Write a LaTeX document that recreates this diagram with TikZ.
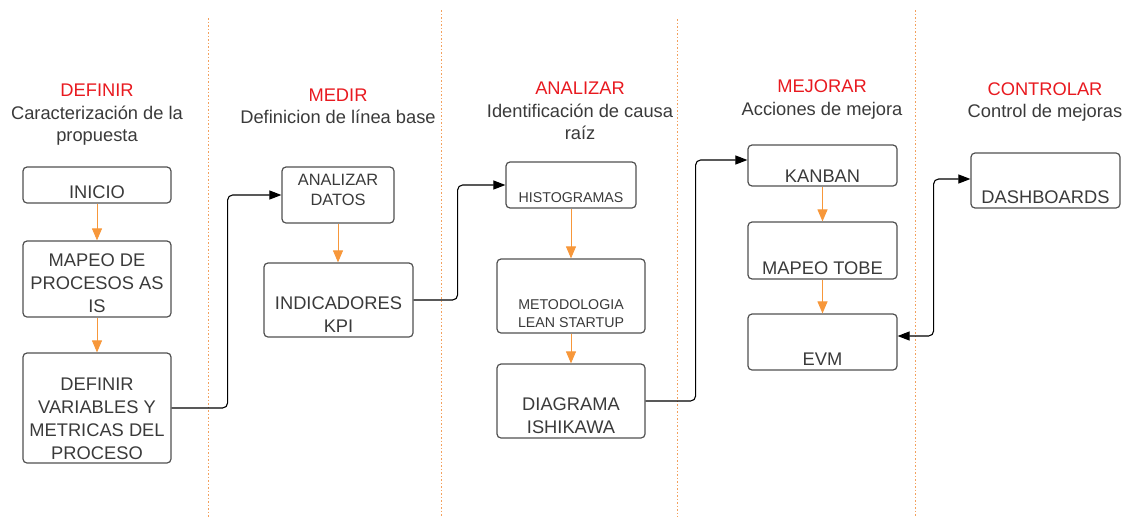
\documentclass[tikz,border=0pt]{standalone}
\usepackage{fontspec}
\setmainfont{Liberation Sans}
\usepackage{tikz}
\usetikzlibrary{positioning, calc, arrows.meta}
\definecolor{phasered}{HTML}{E8191F}
\definecolor{textgray}{HTML}{3A3A3A}
\definecolor{boxgray}{HTML}{505050}
\definecolor{flowor}{HTML}{F7973A}
\definecolor{sepor}{HTML}{F3A05C}
\tikzset{every picture/.append style={thick}}
\tikzset{
  box/.style={draw=boxgray, line width=1.2pt, rounded corners=4pt, inner sep=0pt},
  boxtext/.style={text=textgray, align=center, font=\fontsize{18.3}{23}\selectfont},
  smalltext/.style={text=textgray, align=center, font=\fontsize{14.2}{18}\selectfont},
  phase/.style={text=textgray, align=center, font=\fontsize{18.3}{22.5}\selectfont},
  flow/.style={draw=flowor, line width=1pt, -{Triangle[length=12pt,width=10pt]}},
  conn/.style={draw=black, line width=1.1pt, rounded corners=5pt, -{Triangle[length=12pt,width=9pt]}},
  sep/.style={draw=sepor, line width=1.3pt, dash pattern=on 1.5pt off 2pt}
}

\begin{document}
\begin{tikzpicture}[x=1pt, y=-1pt]
            \useasboundingbox (0,0) rectangle (1131,517);
            
            % Phase separators
            \draw[sep] (208.5,18) -- (208.5,517);
            \draw[sep] (441.5,10) -- (441.5,517);
            \draw[sep] (677.5,19) -- (677.5,517);
            \draw[sep] (915.5,10) -- (915.5,517);
            
            % Phase headings
            \node[phase] (hdefinir) at (97,115) {\textcolor{phasered}{DEFINIR}\\Caracterización de la\\propuesta};
            \node[phase] (hmedir) at (338,106.5) {\textcolor{phasered}{MEDIR}\\Definicion de línea base};
            \node[phase] (hanalizar) at (580,111) {\textcolor{phasered}{ANALIZAR}\\Identificación de causa\\raíz};
            \node[phase] (hmejorar) at (822,99.5) {\textcolor{phasered}{MEJORAR}\\Acciones de mejora};
            \node[phase] (hcontrolar) at (1045,102) {\textcolor{phasered}{CONTROLAR}\\Control de mejoras};
            
            % DEFINIR boxes
            \node[box, minimum width=148pt, minimum height=36pt] (inicio) at (97,185) {};
            \node[boxtext] (inicioT) at ([yshift=-7pt]inicio.center) {INICIO};
            \node[box, minimum width=148pt, minimum height=76pt] (asis) at (97,279) {};
            \node[boxtext] (asisT) at ([yshift=-4pt]asis.center) {MAPEO DE\\PROCESOS AS\\IS};
            \node[box, minimum width=148pt, minimum height=110pt] (defvar) at (97,408) {};
            \node[boxtext] (defvarT) at ([yshift=-11pt]defvar.center) {DEFINIR\\VARIABLES Y\\METRICAS DEL\\PROCESO};
            
            % MEDIR boxes
            \node[box, minimum width=112pt, minimum height=56pt] (datos) at (338,195) {};
            \node[boxtext, font=\fontsize{16.4}{20}\selectfont] (datosT) at ([yshift=5pt]datos.center) {ANALIZAR\\DATOS};
            \node[box, minimum width=149pt, minimum height=74pt] (kpi) at (338.5,300) {};
            \node[boxtext] (kpiT) at ([yshift=-15pt]kpi.center) {INDICADORES\\KPI};
            
            % ANALIZAR boxes
            \node[box, minimum width=130pt, minimum height=46pt] (histo) at (571,185) {};
            \node[smalltext] (histoT) at ([yshift=-13pt]histo.center) {HISTOGRAMAS};
            \node[box, minimum width=148pt, minimum height=74pt] (lean) at (571,296) {};
            \node[smalltext] (leanT) at ([yshift=-18pt]lean.center) {METODOLOGIA\\LEAN STARTUP};
            \node[box, minimum width=148pt, minimum height=74pt] (ishikawa) at (571,401) {};
            \node[boxtext] (ishikawaT) at ([yshift=-15pt]ishikawa.center) {DIAGRAMA\\ISHIKAWA};
            
            % MEJORAR boxes
            \node[box, minimum width=149pt, minimum height=41pt] (kanban) at (822.5,165.5) {};
            \node[boxtext] (kanbanT) at ([yshift=-10.5pt]kanban.center) {KANBAN};
            \node[box, minimum width=149pt, minimum height=57pt] (tobe) at (822.5,250.5) {};
            \node[boxtext] (tobeT) at ([yshift=-17.5pt]tobe.center) {MAPEO TOBE};
            \node[box, minimum width=149pt, minimum height=56pt] (evm) at (822.5,342) {};
            \node[boxtext] (evmT) at ([yshift=-17pt]evm.center) {EVM};
            
            % CONTROLAR box
            \node[box, minimum width=149pt, minimum height=55pt] (dash) at (1045.5,180.5) {};
            \node[boxtext] (dashT) at ([yshift=-16.5pt]dash.center) {DASHBOARDS};
            
            % Steps inside each phase
            \draw[flow] (inicio) -- (asis);
            \draw[flow] (asis) -- (defvar);
            \draw[flow] (datos) -- (kpi.north -| datos.south);
            \draw[flow] (histo) -- (lean.north -| histo.south);
            \draw[flow] (lean) -- (ishikawa);
            \draw[flow] (kanban) -- (tobe);
            \draw[flow] (tobe) -- (evm);
            
            % Links between phases
            \draw[conn] (defvar.east) -- ([xshift=56pt]defvar.east) |- (datos.west);
            \draw[conn] (kpi.east) -- ([xshift=44pt]kpi.east) |- (histo.west);
            \draw[conn] (ishikawa.east) -- ([xshift=50pt]ishikawa.east) |- ([yshift=5.5pt]kanban.west);
            \draw[conn, {Triangle[length=12pt,width=9pt]}-{Triangle[length=12pt,width=9pt]}] ([yshift=6pt]evm.east) -- ([xshift=36pt,yshift=6pt]evm.east) |- ([yshift=1.5pt]dash.west);
        \end{tikzpicture}
\end{document}
